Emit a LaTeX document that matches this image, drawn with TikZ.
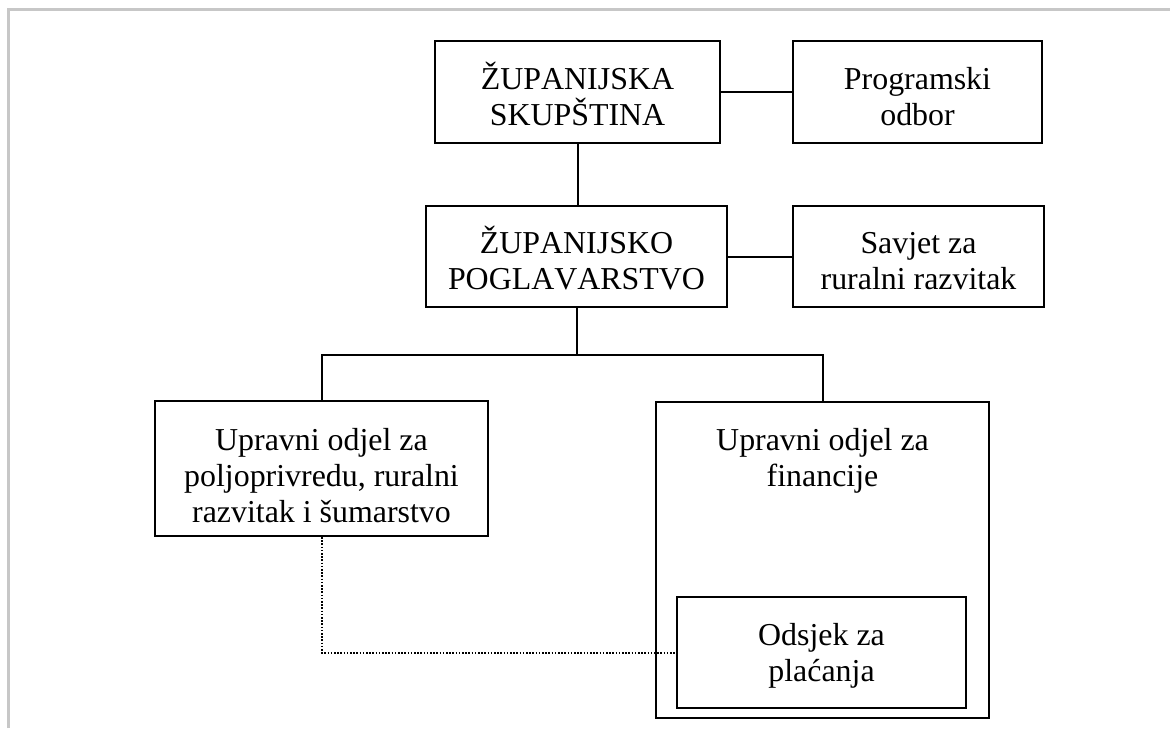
\documentclass[tikz,border=0pt]{standalone}
\usepackage{fontspec}
\setmainfont[Kerning=Off]{Liberation Serif}
\tikzset{
  orgbox/.style={draw=black, line width=1pt, inner sep=0pt},
  orgtext/.style={inner sep=0pt, align=center, anchor=base,
    font=\fontsize{15.95}{18}\selectfont},
  link/.style={draw=black, line width=1pt},
  dotlink/.style={draw=black, line width=1pt, dash pattern=on 0.8pt off 0.8pt},
  frameline/.style={draw=black!22, line width=1.1pt}
}
\begin{document}
\begin{tikzpicture}[x=0.5pt, y=-0.5pt]
\useasboundingbox (0,0) rectangle (1170,728);
% outer light frame (top and left edges visible)
\coordinate (fbl) at (8.5,728);
\coordinate (ftl) at (8.5,9.5);
\coordinate (ftr) at (1170,9.5);
\draw[frameline] (fbl) -- (ftl) -- (ftr);

% boxes
\node[orgbox, minimum width=142.5pt, minimum height=51pt] (b1) at (577.5,92) {};
\node[orgbox, minimum width=124.5pt, minimum height=51pt] (b2) at (917.5,92) {};
\node[orgbox, minimum width=150.5pt, minimum height=50.5pt] (b3) at (576.5,256.5) {};
\node[orgbox, minimum width=125.5pt, minimum height=50.5pt] (b4) at (918.5,256.5) {};
\node[orgbox, minimum width=166.5pt, minimum height=67.5pt] (b5) at (321.5,468.5) {};
\node[orgbox, minimum width=166.5pt, minimum height=158pt] (b6) at (822.5,560) {};
\node[orgbox, minimum width=144.5pt, minimum height=55.5pt] (b7) at (821.5,652.5) {};

% texts (anchored at the baseline of the last line)
\node[orgtext] (b1t) at (577.5,125.5) {ŽUPANIJSKA\\SKUPŠTINA};
\node[orgtext] (b2t) at (917.5,125.5) {Programski\\odbor};
\node[orgtext] (b3t) at (576.5,289.5) {ŽUPANIJSKO\\POGLAVARSTVO};
\node[orgtext] (b4t) at (918.5,289.5) {Savjet za\\ruralni razvitak};
\node[orgtext] (b5t) at (321.5,522) {Upravni odjel za\\poljoprivredu, ruralni\\razvitak i šumarstvo};
\node[orgtext] (b6t) at (822.5,486) {Upravni odjel za\\financije};
\node[orgtext] (b7t) at (821.5,681) {Odsjek za\\plaćanja};

\coordinate (br) at (577,354.5);

% connectors
\draw[link] (b1.east) -- (b2.west);
\draw[link] (b3.east) -- (b4.west);
\draw[link] (b1.south) -- (b1.south |- b3.north);
\draw[link] (b3.south) -- (b3.south |- br);
\draw[link] (b5.north) -- (b5.north |- br) -- (b6.north |- br) -- (b6.north);
\draw[dotlink] (b5.south) |- (b7.west);
\end{tikzpicture}
\end{document}
